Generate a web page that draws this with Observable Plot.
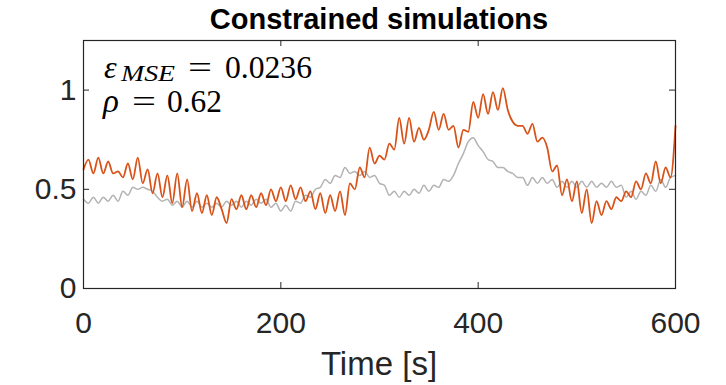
<!DOCTYPE html>
<html><head><meta charset="utf-8">
<script src="https://cdn.jsdelivr.net/npm/d3@7"></script>
<script src="https://cdn.jsdelivr.net/npm/@observablehq/plot@0.6"></script>
<style>body{margin:0;background:#fff} #chart{width:726px;height:385px}</style>
</head><body><div id="chart"></div>
<script>
const times = [0,5,10,15,20,25,30,35,40,45,50,55,60,65,70,75,80,85,90,95,
  100,105,110,115,120,125,130,135,140,145,150,155,160,165,170,175,180,185,190,195,
  200,205,210,215,220,225,230,235,240,245,250,255,260,265,270,275,280,285,290,295,
  300,305,310,315,320,325,330,335,340,345,350,355,360,365,370,375,380,385,390,395,
  400,405,410,415,420,425,430,435,440,445,450,455,460,465,470,475,480,485,490,495,
  500,505,510,515,520,525,530,535,540,545,550,555,560,565,570,575,580,585,590,595,600];
const simulated = [0.60,0.65,0.58,0.66,0.58,0.64,0.58,0.59,0.56,0.63,0.55,0.66,0.53,0.60,0.48,0.58,0.46,0.57,0.43,0.58,
  0.41,0.55,0.39,0.48,0.38,0.47,0.37,0.46,0.40,0.33,0.45,0.40,0.47,0.40,0.47,0.41,0.48,0.42,0.50,0.44,
  0.51,0.44,0.52,0.45,0.51,0.44,0.49,0.40,0.48,0.38,0.47,0.39,0.49,0.37,0.53,0.50,0.61,0.56,0.71,0.63,
  0.67,0.65,0.73,0.70,0.86,0.73,0.86,0.74,0.81,0.75,0.80,0.89,0.80,0.88,0.80,0.82,0.71,0.80,0.79,0.94,
  0.86,0.98,0.88,0.99,0.90,1.01,0.90,0.84,0.82,0.82,0.78,0.83,0.74,0.76,0.71,0.59,0.62,0.47,0.55,0.44,
  0.54,0.38,0.50,0.33,0.44,0.37,0.44,0.40,0.46,0.44,0.49,0.46,0.54,0.50,0.58,0.53,0.64,0.53,0.61,0.56,0.82];
const measured = [0.45,0.43,0.46,0.43,0.46,0.44,0.47,0.44,0.49,0.47,0.51,0.50,0.51,0.50,0.49,0.46,0.44,0.45,0.42,0.44,
  0.41,0.44,0.41,0.44,0.41,0.43,0.41,0.43,0.41,0.44,0.42,0.44,0.41,0.44,0.42,0.45,0.43,0.45,0.41,0.43,
  0.39,0.42,0.39,0.44,0.43,0.47,0.46,0.50,0.51,0.55,0.53,0.57,0.56,0.61,0.58,0.59,0.57,0.59,0.56,0.57,
  0.53,0.52,0.47,0.49,0.46,0.49,0.47,0.50,0.48,0.52,0.49,0.52,0.51,0.55,0.54,0.57,0.63,0.68,0.74,0.76,
  0.72,0.69,0.65,0.64,0.61,0.61,0.59,0.58,0.56,0.56,0.52,0.56,0.53,0.56,0.53,0.55,0.51,0.54,0.51,0.54,
  0.51,0.54,0.51,0.54,0.51,0.53,0.51,0.54,0.51,0.52,0.46,0.49,0.45,0.49,0.47,0.52,0.49,0.55,0.51,0.56,0.57];
const xTicks = [0, 200, 400, 600];
const yTicks = [0, 0.5, 1];
const yTickLabels = ["0", "0.5", "1"];
const titleText = "Constrained simulations";
const xLabel = "Time [s]";
const mseLabel = "0.0236";
const rhoLabel = "0.62";

const W = 726, H = 385, mL = 83, mR = 51, mT = 40, mB = 97;
const innerW = W - mL - mR, innerH = H - mT - mB;
const tickLen = 6;
const ink = "#262626";
const data = times.map((t, i) => ({t, sim: simulated[i], ref: measured[i]}));

const chart = Plot.plot({
  width: W, height: H,
  marginLeft: mL, marginRight: mR, marginTop: mT, marginBottom: mB,
  style: {fontFamily: "'Liberation Sans', Arial, sans-serif", color: ink, background: "white"},
  x: {domain: [0, 600]},
  y: {domain: [0, 1.25]},
  marks: [
    Plot.line(data, {x: "t", y: "ref", stroke: "#b3b3b3", strokeWidth: 1.5, curve: "monotone-x"}),
    Plot.line(data, {x: "t", y: "sim", stroke: "#D95319", strokeWidth: 1.8, curve: "monotone-x"}),
    Plot.frame({stroke: ink, strokeWidth: 1.2}),
    Plot.tickX(xTicks, {x: d => d, insetTop: innerH - tickLen, stroke: ink}),
    Plot.tickX(xTicks, {x: d => d, insetBottom: innerH - tickLen, stroke: ink}),
    Plot.tickY(yTicks, {y: d => d, insetRight: innerW - tickLen, stroke: ink}),
    Plot.tickY(yTicks, {y: d => d, insetLeft: innerW - tickLen, stroke: ink}),
    Plot.axisX({ticks: xTicks, tickSize: 0, tickPadding: 23, fontSize: 30, label: null, tickFormat: d => String(d)}),
    Plot.axisY({ticks: yTicks, tickSize: 0, tickPadding: 7, fontSize: 30, label: null, tickFormat: d => yTickLabels[yTicks.indexOf(d)]})
  ]
});
document.getElementById("chart").append(chart);

const svg = d3.select(chart);
svg.append("text").attr("x", mL + innerW / 2).attr("y", 29)
  .attr("text-anchor", "middle").attr("font-weight", "bold").attr("font-size", 29)
  .attr("fill", "#000").attr("font-family", "'Liberation Sans', Arial, sans-serif").text(titleText);
svg.append("text").attr("x", mL + innerW / 2).attr("y", 375)
  .attr("text-anchor", "middle").attr("font-size", 33)
  .attr("fill", ink).attr("font-family", "'Liberation Sans', Arial, sans-serif").text(xLabel);

const serif = "'Liberation Serif', 'DejaVu Serif', serif";
function t(x, y, s, size, italic, len) {
  const el = svg.append("text").attr("x", x).attr("y", y).attr("font-size", size)
    .attr("text-anchor", "start")
    .attr("font-family", serif).attr("font-style", italic ? "italic" : "normal")
    .attr("fill", "#000").text(s);
  if (len) el.attr("textLength", len).attr("lengthAdjust", "spacingAndGlyphs");
}
t(104, 78, "ε", 32, true);
t(121, 81, "MSE", 23, true, 54);
t(188, 78, "=", 32, false, 24);
t(225, 78, mseLabel, 32, false, 87);
t(103, 112, "ρ", 33, true);
t(132, 112, "=", 32, false, 24);
t(167, 112, rhoLabel, 32, false, 55);
</script>
</body></html>
